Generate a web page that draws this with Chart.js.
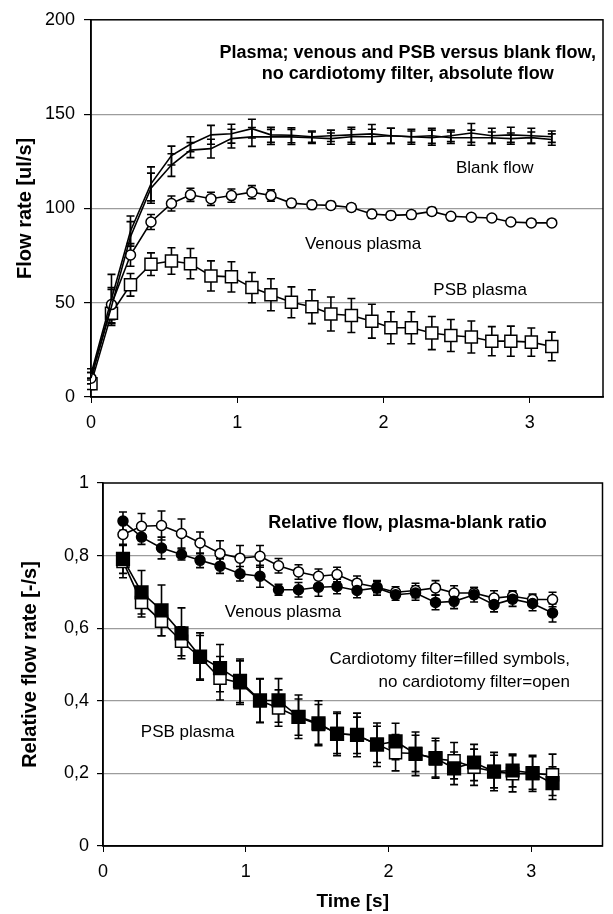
<!DOCTYPE html>
<html>
<head>
<meta charset="utf-8">
<script src="https://cdn.jsdelivr.net/npm/chart.js@4.4.1/dist/chart.umd.min.js"></script>
<style>
  html, body { margin: 0; padding: 0; background: #fff; }
  #wrap { position: relative; width: 613px; height: 914px; }
  canvas { position: absolute; left: 0; }
  #top { top: 0; }
  #bottom { top: 440px; }
</style>
</head>
<body>
<div id="wrap">
  <canvas id="top" width="613" height="440"></canvas>
  <canvas id="bottom" width="613" height="474"></canvas>
</div>
<script>
// time points [s]
var times = [0, 0.14, 0.27, 0.41, 0.55, 0.68, 0.82, 0.96, 1.10, 1.23, 1.37, 1.51,
             1.64, 1.78, 1.92, 2.05, 2.19, 2.33, 2.46, 2.60, 2.74, 2.87, 3.01, 3.15];
var relTimes = [0.14, 0.27, 0.41, 0.55, 0.68, 0.82, 0.96, 1.10, 1.23, 1.37, 1.51,
                1.64, 1.78, 1.92, 2.05, 2.19, 2.33, 2.46, 2.60, 2.74, 2.87, 3.01, 3.15];

// absolute flow [ul/s]
var blankA = [12, 52, 88, 113, 128, 134, 139, 139.6, 142.3, 139, 138.8, 138,
              138.5, 139, 139.5, 138.5, 138, 137.5, 138.5, 140, 138.5, 139, 138.5, 138];
var blankAErr = [3, 13, 8, 9, 5, 4, 5, 5, 5, 4, 4, 3,
                 3, 4, 5, 4, 4, 4, 3, 5, 4, 4, 4, 3];
var blankB = [10, 48, 85, 110.7, 123, 130.9, 131.7, 137, 137.9, 137.9, 137.9, 137.5,
              137, 138, 138, 138.5, 138, 138.5, 137.5, 137.5, 137.5, 137, 137.5, 136.5];
var blankBErr = [3, 10, 8, 8, 6, 4, 5, 5, 5, 4, 4, 3,
                 3, 4, 4, 4, 3, 4, 3, 4, 3, 3, 3, 3];
var venousFlow = [10, 49, 75.3, 92.8, 102.6, 107.2, 105.1, 106.8, 108.6, 106.8, 102.8, 101.9,
                  101.6, 100.5, 97, 96.3, 96.7, 98.4, 95.8, 95.3, 94.9, 92.8, 92.3, 92.3];
var venousFlowErr = [3, 8, 6, 4, 4, 3.5, 3.5, 3.5, 3.5, 3, 2, 2,
                     2, 2, 2, 2, 2, 2, 1.5, 1.5, 1.5, 1.5, 1.5, 1.5];
var psbFlow = [7, 44.4, 59.5, 70.4, 72.1, 70.7, 64.2, 63.7, 58, 54.2, 50.2, 47.9,
               44, 43.2, 40.2, 36.7, 36.7, 33.9, 32.6, 31.8, 29.6, 29.6, 29.1, 26.8];
var psbFlowErr = [3, 5, 6, 6, 7, 8, 8, 8, 8, 8.5, 8.2, 9,
                  9, 9, 9, 8.5, 8.5, 8.8, 8.5, 8.5, 7.7, 8, 7.5, 7.6];

// relative flow, plasma-blank ratio [-/s]
var venousFilter = [0.895, 0.851, 0.821, 0.803, 0.787, 0.771, 0.750, 0.743, 0.706, 0.706, 0.713,
                    0.715, 0.704, 0.711, 0.692, 0.697, 0.671, 0.674, 0.692, 0.665, 0.680, 0.668, 0.642];
var venousFilterErr = [0.025, 0.02, 0.03, 0.015, 0.02, 0.02, 0.02, 0.03, 0.015, 0.02, 0.025,
                       0.02, 0.02, 0.02, 0.015, 0.02, 0.02, 0.02, 0.02, 0.02, 0.02, 0.02, 0.025];
var venousOpen = [0.858, 0.881, 0.883, 0.861, 0.835, 0.806, 0.793, 0.798, 0.772, 0.755, 0.743,
                  0.748, 0.724, 0.713, 0.699, 0.704, 0.711, 0.697, 0.697, 0.683, 0.688, 0.679, 0.679];
var venousOpenErr = [0.03, 0.035, 0.04, 0.04, 0.03, 0.035, 0.035, 0.03, 0.02, 0.02, 0.02,
                     0.02, 0.02, 0.015, 0.015, 0.02, 0.02, 0.02, 0.015, 0.02, 0.015, 0.015, 0.02];
var psbFilter = [0.791, 0.699, 0.649, 0.586, 0.522, 0.490, 0.455, 0.401, 0.401, 0.356, 0.338,
                 0.309, 0.306, 0.279, 0.288, 0.254, 0.242, 0.214, 0.230, 0.205, 0.208, 0.201, 0.173];
var psbFilterErr = [0.04, 0.06, 0.07, 0.07, 0.065, 0.065, 0.06, 0.06, 0.06, 0.06, 0.062,
                    0.06, 0.06, 0.06, 0.05, 0.06, 0.055, 0.045, 0.05, 0.053, 0.045, 0.045, 0.045];
var psbOpen = [0.784, 0.671, 0.619, 0.564, 0.520, 0.462, 0.450, 0.400, 0.380, 0.355, 0.335,
               0.310, 0.305, 0.280, 0.257, 0.255, 0.240, 0.235, 0.217, 0.205, 0.199, 0.200, 0.196];
var psbOpenErr = [0.045, 0.04, 0.04, 0.04, 0.06, 0.06, 0.06, 0.06, 0.05, 0.05, 0.055,
                  0.055, 0.05, 0.05, 0.05, 0.05, 0.05, 0.05, 0.05, 0.045, 0.05, 0.05, 0.057];

// tick labels
var flowTicks = [0, 50, 100, 150, 200];
var relTicks = ['0', '0,2', '0,4', '0,6', '0,8', '1'];
var timeTicks = ['0', '1', '2', '3'];

var FONT = "'Liberation Sans', Arial, Helvetica, sans-serif";

function pts(xs, ys) {
    return ys.map(function(v, i) { return {x: xs[i], y: v}; });
}

// vertical error bars with caps
var errorBars = {
    id: 'errorBars',
    beforeDatasetsDraw: function(chart) {
        var ctx = chart.ctx, xs = chart.scales.x, ys = chart.scales.y;
        ctx.save();
        ctx.strokeStyle = '#000';
        ctx.lineWidth = 1.6;
        chart.data.datasets.forEach(function(ds) {
            if (!ds.errors) return;
            ds.data.forEach(function(p, k) {
                var e = ds.errors[k];
                var px = xs.getPixelForValue(p.x);
                var t = ys.getPixelForValue(p.y + e);
                var b = ys.getPixelForValue(p.y - e);
                ctx.beginPath();
                ctx.moveTo(px, t); ctx.lineTo(px, b);
                ctx.moveTo(px - 4, t); ctx.lineTo(px + 4, t);
                ctx.moveTo(px - 4, b); ctx.lineTo(px + 4, b);
                ctx.stroke();
            });
        });
        ctx.restore();
    }
};

// box round the plot area
var frame = {
    id: 'frame',
    beforeDatasetsDraw: function(chart) {
        var a = chart.chartArea, ctx = chart.ctx;
        ctx.save();
        ctx.strokeStyle = '#000';
        ctx.lineWidth = 1.5;
        ctx.strokeRect(a.left, a.top, a.right - a.left, a.bottom - a.top);
        ctx.restore();
    }
};

// text notes placed in data coordinates
function notes(items) {
    return {
        id: 'notes',
        afterDraw: function(chart) {
            var ctx = chart.ctx, xs = chart.scales.x, ys = chart.scales.y;
            ctx.save();
            ctx.fillStyle = '#000';
            ctx.textBaseline = 'middle';
            items.forEach(function(n) {
                ctx.font = (n.bold ? 'bold 18px ' : '17px ') + FONT;
                ctx.textAlign = n.align || 'center';
                ctx.fillText(n.text, xs.getPixelForValue(n.x), ys.getPixelForValue(n.y));
            });
            ctx.restore();
        }
    };
}

function lineSet(label, data, errors, style, radius, fill) {
    return {
        label: label,
        data: data,
        errors: errors,
        borderColor: '#000',
        borderWidth: 1.6,
        pointStyle: style,
        pointRadius: radius,
        pointHoverRadius: radius,
        pointBackgroundColor: fill,
        pointBorderColor: '#000',
        pointBorderWidth: 1.5,
        tension: 0
    };
}

function xScale(height, titleText) {
    return {
        type: 'linear', min: 0, max: 3.5,
        afterBuildTicks: function(axis) {
            axis.ticks = axis.ticks.filter(function(t) { return Number.isInteger(t.value); });
        },
        afterFit: function(axis) { axis.height = height; },
        ticks: {
            stepSize: 1, color: '#000', padding: 9,
            font: {family: FONT, size: 18},
            callback: function(v) { return timeTicks[v]; }
        },
        grid: {drawOnChartArea: false, tickColor: '#000', tickLength: 6},
        border: {color: '#000', width: 1.5},
        title: titleText ? {
            display: true, text: titleText, color: '#000',
            font: {family: FONT, size: 19, weight: 'bold'},
            padding: {top: 0, bottom: 1}
        } : {display: false}
    };
}

function gridColor(max) {
    return function(c) {
        return (c.tick.value > 0 && c.tick.value < max) ? '#9c9c9c' : 'rgba(0,0,0,0)';
    };
}

new Chart(document.getElementById('top'), {
    type: 'line',
    data: {
        datasets: [
            lineSet('Blank flow A', pts(times, blankA), blankAErr, 'circle', 0, '#000'),
            lineSet('Blank flow B', pts(times, blankB), blankBErr, 'circle', 0, '#000'),
            lineSet('Venous plasma', pts(times, venousFlow), venousFlowErr, 'circle', 5, '#fff'),
            lineSet('PSB plasma', pts(times, psbFlow), psbFlowErr, 'rect', 8.5, '#fff')
        ]
    },
    options: {
        responsive: false,
        animation: false,
        layout: {padding: {left: 0, right: 3, top: 17, bottom: 0}},
        plugins: {legend: {display: false}, tooltip: {enabled: false}},
        scales: {
            x: xScale(43, null),
            y: {
                type: 'linear', min: 0, max: 200,
                afterFit: function(axis) { axis.width = 91; },
                afterBuildTicks: function(axis) {
                    axis.ticks = flowTicks.map(function(v) { return {value: v}; });
                },
                ticks: {color: '#000', padding: 9, font: {family: FONT, size: 18}},
                grid: {color: gridColor(200), tickColor: '#000', tickLength: 7, lineWidth: 1.2},
                border: {color: '#000', width: 1.5},
                title: {
                    display: true, text: 'Flow rate [ul/s]', color: '#000',
                    font: {family: FONT, size: 20, weight: 'bold'},
                    padding: {top: 13, bottom: 0}
                }
            }
        }
    },
    plugins: [frame, errorBars, notes([
        {text: 'Plasma; venous and PSB versus blank flow,', x: 2.165, y: 182.5, bold: true},
        {text: 'no cardiotomy filter, absolute flow', x: 2.165, y: 171, bold: true},
        {text: 'Blank flow', x: 2.76, y: 121},
        {text: 'Venous plasma', x: 1.86, y: 81},
        {text: 'PSB plasma', x: 2.66, y: 56.8}
    ])]
});

new Chart(document.getElementById('bottom'), {
    type: 'line',
    data: {
        datasets: [
            lineSet('Venous, filter', pts(relTimes, venousFilter), venousFilterErr, 'circle', 5, '#000'),
            lineSet('Venous, no filter', pts(relTimes, venousOpen), venousOpenErr, 'circle', 5, '#fff'),
            lineSet('PSB, filter', pts(relTimes, psbFilter), psbFilterErr, 'rect', 9, '#000'),
            lineSet('PSB, no filter', pts(relTimes, psbOpen), psbOpenErr, 'rect', 8.5, '#fff')
        ]
    },
    options: {
        responsive: false,
        animation: false,
        layout: {padding: {left: 0, right: 2, top: 43, bottom: 0}},
        plugins: {legend: {display: false}, tooltip: {enabled: false}},
        scales: {
            x: xScale(68, 'Time [s]'),
            y: {
                type: 'linear', min: 0, max: 1,
                afterFit: function(axis) { axis.width = 103; },
                afterBuildTicks: function(axis) {
                    axis.ticks = relTicks.map(function(s, i) { return {value: i / 5}; });
                },
                ticks: {
                    color: '#000', padding: 8, font: {family: FONT, size: 18},
                    callback: function(v, i) { return relTicks[i]; }
                },
                grid: {color: gridColor(1), tickColor: '#000', tickLength: 6, lineWidth: 1.2},
                border: {color: '#000', width: 1.5},
                title: {
                    display: true, text: 'Relative flow rate [-/s]', color: '#000',
                    font: {family: FONT, size: 20, weight: 'bold'},
                    padding: {top: 18, bottom: 0}
                }
            }
        }
    },
    plugins: [frame, errorBars, notes([
        {text: 'Relative flow, plasma-blank ratio', x: 2.134, y: 0.891, bold: true},
        {text: 'Venous plasma', x: 1.261, y: 0.643},
        {text: 'Cardiotomy filter=filled symbols,', x: 3.272, y: 0.513, align: 'right'},
        {text: 'no cardiotomy filter=open', x: 3.272, y: 0.452, align: 'right'},
        {text: 'PSB plasma', x: 0.593, y: 0.312}
    ])]
});
</script>
</body>
</html>
